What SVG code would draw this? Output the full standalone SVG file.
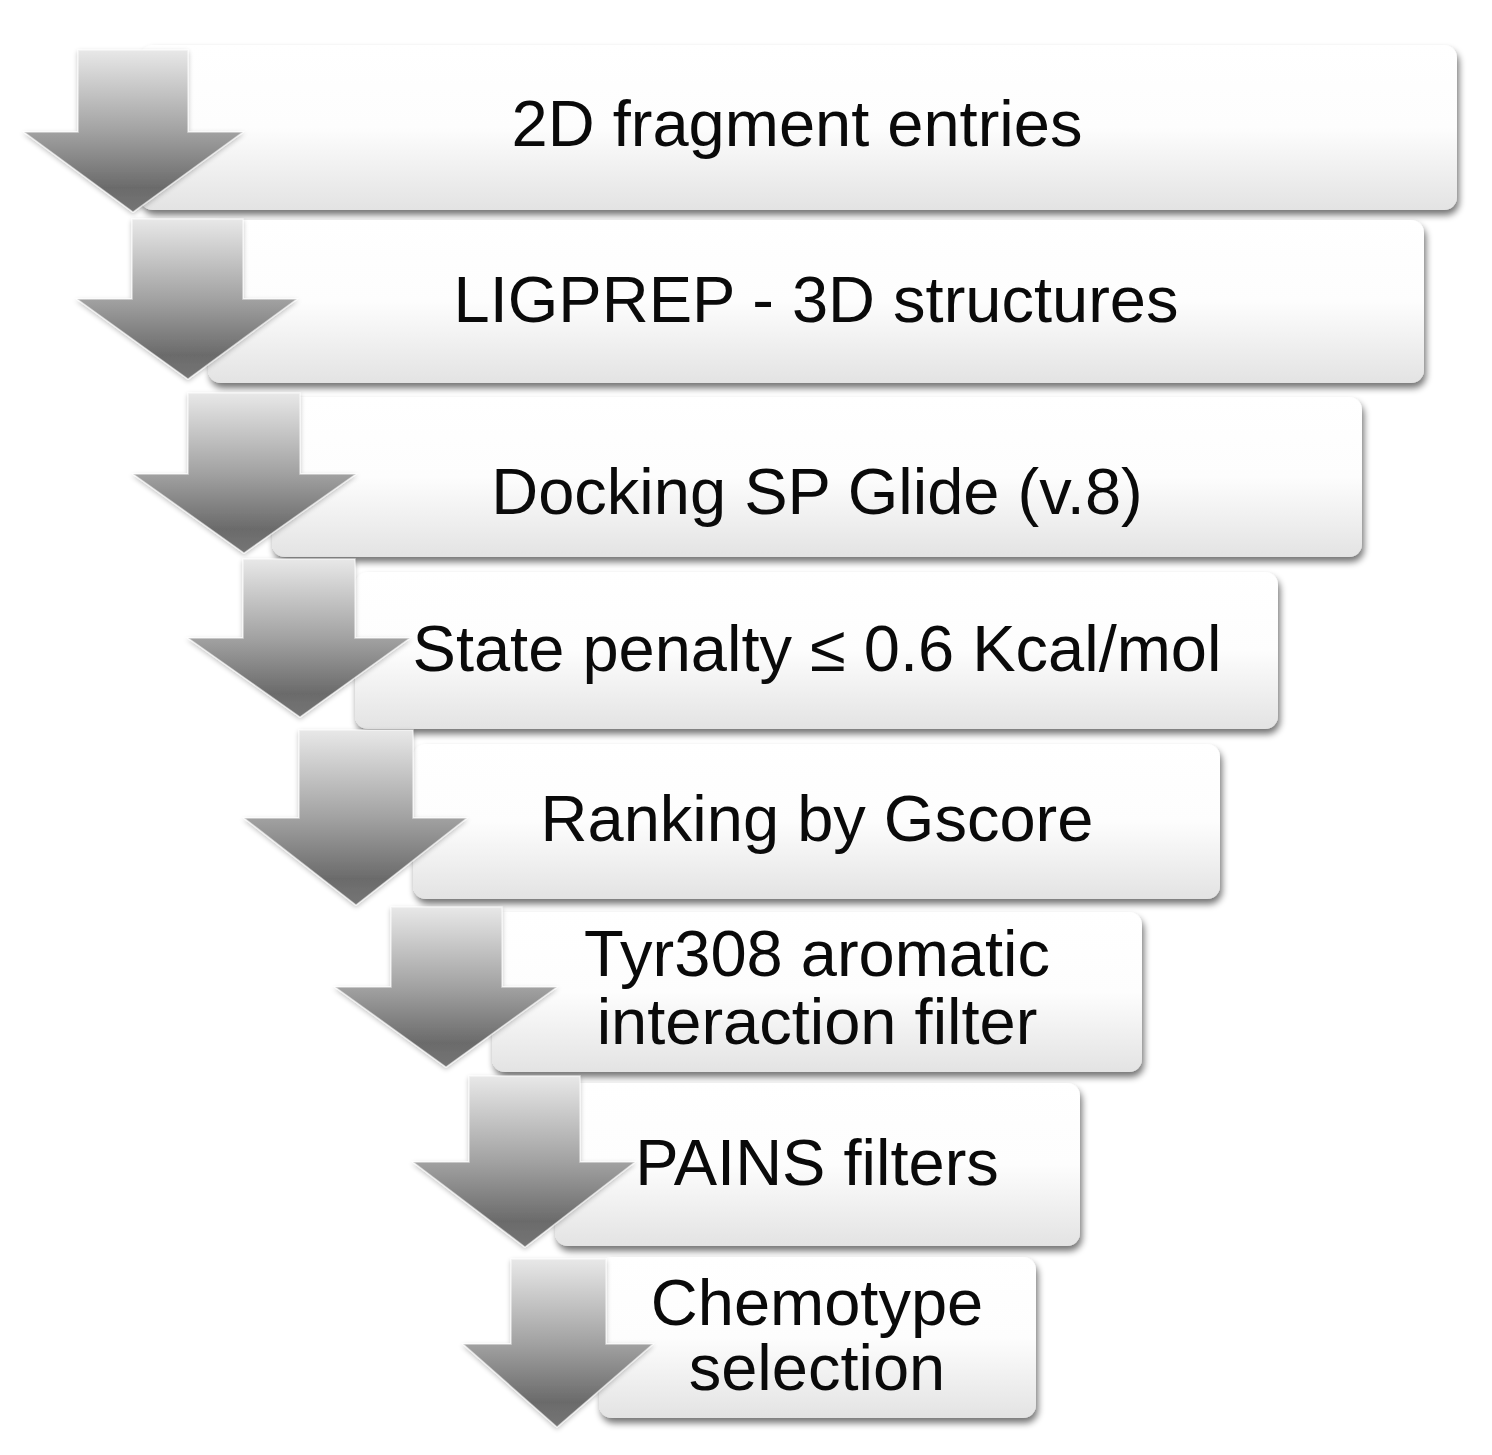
<svg xmlns="http://www.w3.org/2000/svg" width="1492" height="1455" viewBox="0 0 1492 1455">
<defs>
<linearGradient id="boxGrad" x1="0" y1="0" x2="0" y2="1">
<stop offset="0" stop-color="#ffffff"/>
<stop offset="0.5" stop-color="#fdfdfd"/>
<stop offset="1" stop-color="#e3e3e3"/>
</linearGradient>
<linearGradient id="arrowGrad" x1="0" y1="0" x2="0" y2="1">
<stop offset="0" stop-color="#e8e8e8"/>
<stop offset="0.5" stop-color="#a2a2a2"/>
<stop offset="0.85" stop-color="#6b6b6b"/>
<stop offset="1" stop-color="#757575"/>
</linearGradient>
<filter id="shadow" x="-5%" y="-20%" width="112%" height="150%">
<feGaussianBlur in="SourceAlpha" stdDeviation="3.5"/>
<feOffset dx="2" dy="5" result="b"/>
<feComponentTransfer><feFuncA type="linear" slope="0.55"/></feComponentTransfer>
<feMerge><feMergeNode/><feMergeNode in="SourceGraphic"/></feMerge>
</filter>
<filter id="ashadow" x="-20%" y="-10%" width="140%" height="130%">
<feGaussianBlur in="SourceAlpha" stdDeviation="2.5"/>
<feOffset dx="0" dy="2" result="b"/>
<feComponentTransfer><feFuncA type="linear" slope="0.25"/></feComponentTransfer>
<feMerge><feMergeNode/><feMergeNode in="SourceGraphic"/></feMerge>
</filter>
</defs>
<style>
.box{fill:url(#boxGrad);filter:url(#shadow);}
.lbl{font-family:"Liberation Sans",Arial,Helvetica,sans-serif;font-size:65px;fill:#0a0a0a;text-anchor:middle;}
.arr{fill:url(#arrowGrad);stroke:#ffffff;stroke-opacity:0.55;stroke-width:1.5;filter:url(#ashadow);}
</style>
<rect width="1492" height="1455" fill="#ffffff"/>
<g id="step1"><rect class="box" x="140" y="45" width="1317" height="165" rx="13"/><text class="lbl" x="797" y="146">2D fragment entries</text></g>
<g id="step2"><rect class="box" x="208" y="220" width="1216" height="163" rx="13"/><text class="lbl" x="816" y="322">LIGPREP - 3D structures</text></g>
<g id="step3"><rect class="box" x="272" y="397" width="1090" height="160" rx="13"/><text class="lbl" x="817" y="514">Docking SP Glide (v.8)</text></g>
<g id="step4"><rect class="box" x="355" y="572" width="923" height="157" rx="13"/><text class="lbl" x="817" y="671">State penalty ≤ 0.6 Kcal/mol</text></g>
<g id="step5"><rect class="box" x="413" y="744" width="807" height="155" rx="13"/><text class="lbl" x="817" y="841">Ranking by Gscore</text></g>
<g id="step6"><rect class="box" x="492" y="912" width="650" height="160" rx="13"/><text class="lbl" x="817" y="976">Tyr308 aromatic</text><text class="lbl" x="817" y="1044">interaction filter</text></g>
<g id="step7"><rect class="box" x="555" y="1083" width="525" height="163" rx="13"/><text class="lbl" x="817" y="1185">PAINS filters</text></g>
<g id="step8"><rect class="box" x="599" y="1257" width="437" height="161" rx="13"/><text class="lbl" x="817" y="1325">Chemotype</text><text class="lbl" x="817" y="1390">selection</text></g>
<g id="connectors">
<path class="arr" d="M78,50 H188 V132 H243 L133,212 L24,132 H78 Z"/>
<path class="arr" d="M132,219 H243 V299 H297 L188,379 L77,299 H132 Z"/>
<path class="arr" d="M188,393 H300 V474 H356 L244,553 L133,474 H188 Z"/>
<path class="arr" d="M243,559 H355 V638 H410 L300,717 L188,638 H243 Z"/>
<path class="arr" d="M299,730 H413 V818 H467 L356,905 L244,818 H299 Z"/>
<path class="arr" d="M391,907 H502 V987 H557 L446,1067 L335,987 H391 Z"/>
<path class="arr" d="M469,1076 H580 V1162 H635 L525,1247 L413,1162 H469 Z"/>
<path class="arr" d="M511,1259 H606 V1344 H653 L557,1427 L463,1344 H511 Z"/>
</g>
</svg>
